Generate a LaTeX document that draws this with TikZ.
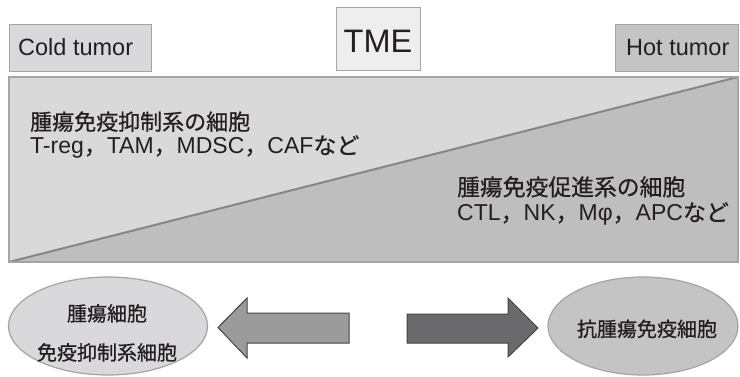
\documentclass[tikz,border=0pt]{standalone}
\usepackage{fontspec}
\setmainfont{Liberation Sans}
\newfontfamily\jp{Noto Sans CJK JP}[FakeBold=0.7]
\usetikzlibrary{shapes.geometric}
\definecolor{coldfill}{HTML}{D9D9DB}
\definecolor{tmefill}{HTML}{EEEEEE}
\definecolor{hotfill}{HTML}{C4C4C4}
\definecolor{upperfill}{HTML}{D9D9DA}
\definecolor{lowerfill}{HTML}{BEBEBE}
\definecolor{edgegray}{HTML}{A4A4A4}
\definecolor{diaggray}{HTML}{868686}
\definecolor{txt}{HTML}{231F20}
\definecolor{arrowlight}{HTML}{9B9B9B}
\definecolor{arrowdark}{HTML}{6A6A6C}
\definecolor{arrowedge}{HTML}{454545}
\newcommand\J[1]{{\jp #1}}
\tikzset{
  labelbox/.style={draw=edgegray, line width=1.2pt, inner sep=0pt, anchor=north west},
  oval/.style={ellipse, draw=edgegray, line width=1.2pt, inner sep=0pt},
  txtnode/.style={inner sep=0pt, text=txt},
  blockarrow/.style={draw=arrowedge, line width=1pt, line join=miter},
}
\begin{document}
\begin{tikzpicture}[x=1pt,y=-1pt]
\useasboundingbox (0,0) rectangle (740,377);
\fill[white] (0,0) rectangle (740,377);
% top boxes
\node[labelbox, fill=coldfill, minimum width=142pt, minimum height=47pt] (coldbox) at (9,24) {};
\node[labelbox, fill=tmefill, minimum width=84pt, minimum height=63pt] (tmebox) at (336,7) {};
\node[labelbox, fill=hotfill, minimum width=123pt, minimum height=47pt] (hotbox) at (615,24) {};
\node[txtnode, anchor=base west, font=\fontsize{23.5}{28}\selectfont] (coldtxt) at (18,56) {Cold tumor};
\node[txtnode, anchor=base, font=\fontsize{32.5}{38}\selectfont] (tmetxt) at (378,52.7) {TME};
\node[txtnode, anchor=base west, font=\fontsize{23.5}{28}\selectfont] (hottxt) at (626,56) {Hot tumor};
% big rectangle
\coordinate (tl) at (9,77);
\coordinate (tr) at (738,77);
\coordinate (bl) at (9,262);
\coordinate (br) at (738,262);
\fill[upperfill] (tl) -- (tr) -- (bl) -- cycle;
\fill[lowerfill] (bl) -- (tr) -- (br) -- cycle;
\draw[diaggray, line width=2pt] (bl) -- (tr);
\draw[edgegray, line width=2pt] (tl) rectangle (br);
% texts in rectangle
\node[txtnode, anchor=base west, font=\fontsize{22}{26}\selectfont\jp] (sup1) at (30,130) {腫瘍免疫抑制系の細胞};
\node[txtnode, anchor=base west, font=\fontsize{23}{26}\selectfont] (sup2) at (30,154) {T-reg\J{，}TAM\J{，}MDSC\J{，}CAF\J{など}};
\node[txtnode, anchor=base west, font=\fontsize{22.8}{26}\selectfont\jp] (pro1) at (457,195.5) {腫瘍免疫促進系の細胞};
\node[txtnode, anchor=base west, font=\fontsize{23}{26}\selectfont] (pro2) at (457,221) {CTL\J{，}NK\J{，}Mφ\J{，}APC\J{など}};
% ellipses
\node[oval, fill=coldfill, minimum width=199pt, minimum height=98pt] (leftoval) at (108,326) {};
\node[oval, fill=hotfill, minimum width=190pt, minimum height=98pt] (rightoval) at (643,326) {};
\node[txtnode, anchor=base, font=\fontsize{20}{24}\selectfont\jp] (lo1) at (107,321) {腫瘍細胞};
\node[txtnode, anchor=base, font=\fontsize{20}{24}\selectfont\jp] (lo2) at (107,360) {免疫抑制系細胞};
\node[txtnode, anchor=base, font=\fontsize{20}{24}\selectfont\jp] (ro1) at (647,336.5) {抗腫瘍免疫細胞};
% block arrows
\draw[blockarrow, fill=arrowlight] (349,313) -- (247,313) -- (247,298) -- (218,327.5) -- (247,358) -- (247,343) -- (349,343) -- cycle;
\draw[blockarrow, fill=arrowdark] (407,314) -- (508,314) -- (508,298) -- (538,328) -- (508,357) -- (508,343) -- (407,343) -- cycle;
\end{tikzpicture}
\end{document}
